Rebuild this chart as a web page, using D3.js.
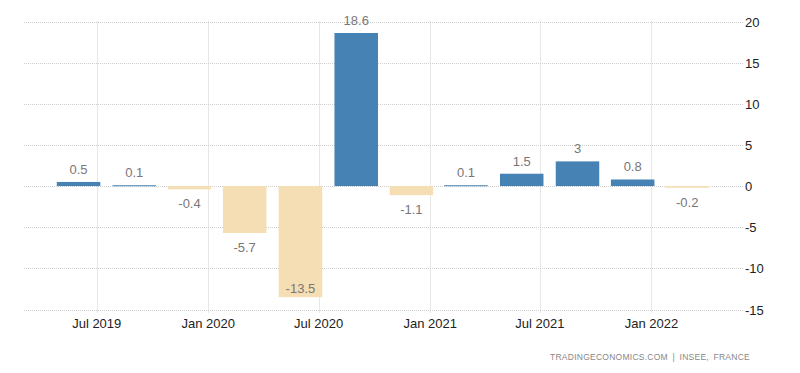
<!DOCTYPE html>
<html><head><meta charset="utf-8">
<script src="https://cdn.jsdelivr.net/npm/d3@7"></script>
<style>body{margin:0;background:#fff}svg{display:block}</style>
</head><body>
<svg id="c" width="800" height="373"></svg>
<script>
const quarters = ["2019-06","2019-09","2019-12","2020-03","2020-06","2020-09","2020-12","2021-03","2021-06","2021-09","2021-12","2022-03"];
const values = [0.5,0.1,-0.4,-5.7,-13.5,18.6,-1.1,0.1,1.5,3,0.8,-0.2];
const labels = ["0.5","0.1","-0.4","-5.7","-13.5","18.6","-1.1","0.1","1.5","3","0.8","-0.2"];
const xTickDates = ["2019-07","2020-01","2020-07","2021-01","2021-07","2022-01"];
const xTickLabels = ["Jul 2019","Jan 2020","Jul 2020","Jan 2021","Jul 2021","Jan 2022"];
const yTicks = [-15,-10,-5,0,5,10,15,20];
const source = "TRADINGECONOMICS.COM | INSEE, FRANCE";

const parse = d3.timeParse("%Y-%m");
const svg = d3.select("#c");
const L = 24, R = 743, T = 21.5, B = 309.5;
const x = d3.scaleTime().domain([new Date(2019,2,3), new Date(2022,5,1)]).range([L, R]);
const y = d3.scaleLinear().domain([-15,20]).range([B, T]);
const FONT = "'Liberation Sans', Arial, sans-serif";

// horizontal grid
svg.append("g").selectAll("line").data(yTicks).join("line")
  .attr("x1", L).attr("x2", R)
  .attr("y1", d => Math.round(y(d))+0.5).attr("y2", d => Math.round(y(d))+0.5)
  .attr("stroke", "#cfcfcf").attr("stroke-dasharray", "1,1");
// vertical grid
svg.append("g").selectAll("line").data(xTickDates).join("line")
  .attr("x1", d => Math.round(x(parse(d)))+0.5).attr("x2", d => Math.round(x(parse(d)))+0.5)
  .attr("y1", T).attr("y2", B + 4)
  .attr("stroke", "#cfcfcf").attr("stroke-dasharray", "1,1");

const step = x(parse("2019-09")) - x(parse("2019-06"));
const bw = step * 0.78;
const data = quarters.map((q,i) => ({d: parse(q), v: values[i], t: labels[i]}));

svg.append("g").selectAll("rect").data(data).join("rect")
  .attr("x", d => x(d.d) - bw/2)
  .attr("width", bw)
  .attr("y", d => d.v >= 0 ? y(d.v) : y(0))
  .attr("height", d => Math.max(1, Math.abs(y(d.v) - y(0))))
  .attr("fill", d => d.v >= 0 ? "#4682b4" : "#f5deb3");

svg.append("g").selectAll("text").data(data).join("text")
  .attr("x", d => x(d.d))
  .attr("y", d => {
    if (d.v >= 0) return y(d.v) - 8;
    let yy = y(d.v) + 19;
    if (yy > B) yy = y(d.v) - 4;
    return yy;
  })
  .attr("text-anchor", "middle")
  .attr("font-family", FONT).attr("font-size", 13)
  .attr("fill", "#777")
  .text(d => d.t);

// x tick labels
svg.append("g").selectAll("text").data(xTickDates).join("text")
  .attr("x", (d) => x(parse(d)))
  .attr("y", 328)
  .attr("text-anchor", "middle")
  .attr("font-family", FONT).attr("font-size", 13)
  .attr("fill", "#222")
  .text((d,i) => xTickLabels[i]);

// y tick labels
svg.append("g").selectAll("text").data(yTicks).join("text")
  .attr("x", 745)
  .attr("y", d => y(d) + 5)
  .attr("font-family", FONT).attr("font-size", 13)
  .attr("fill", "#222")
  .text(d => d);

svg.append("text")
  .attr("x", 750).attr("y", 360)
  .attr("text-anchor", "end")
  .attr("font-family", FONT)
  .attr("font-size", 8.5)
  .attr("letter-spacing", 0.25)
  .style("word-spacing", "2px")
  .attr("fill", "#888")
  .text(source);
</script>
</body></html>
